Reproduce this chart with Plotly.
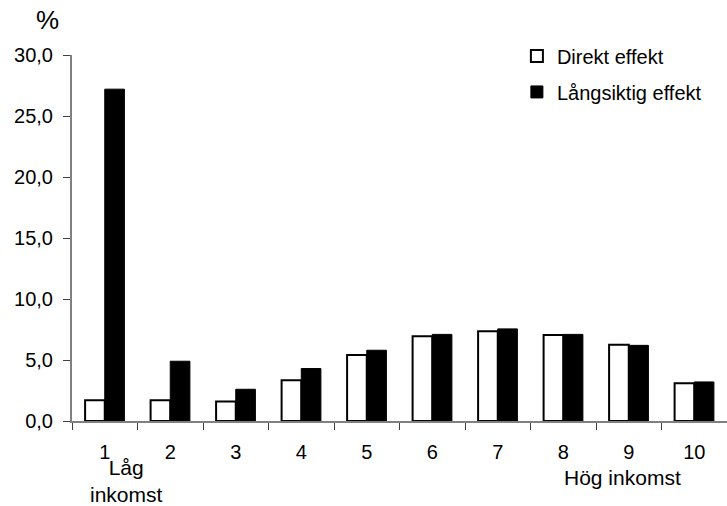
import plotly.graph_objects as go

# Income deciles and effect sizes (%)
deciles = ["1", "2", "3", "4", "5", "6", "7", "8", "9", "10"]
direkt = [1.7, 1.7, 1.6, 3.35, 5.4, 6.95, 7.35, 7.05, 6.25, 3.1]
langsiktig = [27.2, 4.9, 2.6, 4.3, 5.8, 7.1, 7.55, 7.1, 6.2, 3.2]
y_ticks = [0, 5, 10, 15, 20, 25, 30]

FONT = "Liberation Sans, Arial, sans-serif"

fig = go.Figure()
fig.add_trace(go.Bar(
    x=deciles, y=direkt, name="Direkt effekt", legendgroup="a",
    marker=dict(color="white", line=dict(color="black", width=2)),
))
fig.add_trace(go.Bar(
    x=deciles, y=langsiktig, name="Långsiktig effekt", legendgroup="b",
    marker=dict(color="black", line=dict(color="black", width=1)),
))

fig.update_layout(
    width=727, height=506,
    margin=dict(l=72, r=0, t=55, b=85, autoexpand=False),
    paper_bgcolor="white", plot_bgcolor="white",
    barmode="group", bargap=0.4, bargroupgap=0,
    separators=", ",
    font=dict(family=FONT, size=20, color="black"),
    showlegend=True,
    legend=dict(
        xref="container", yref="container",
        x=0.711, y=0.928, xanchor="left", yanchor="top",
        font=dict(size=20), bgcolor="rgba(0,0,0,0)",
        itemwidth=30, tracegroupgap=7, traceorder="grouped",
    ),
    xaxis=dict(
        type="category", tickson="boundaries", range=[-0.5, 9.5],
        ticks="outside", ticklen=7, tickcolor="#404040",
        showline=True, linecolor="#808080", linewidth=2,
        showgrid=False, tickfont=dict(size=20), ticklabelstandoff=12,
    ),
    yaxis=dict(
        range=[0, 30], tickvals=y_ticks, tickformat=".1f",
        ticks="outside", ticklen=7, tickcolor="#404040",
        showline=True, linecolor="#808080", linewidth=2,
        showgrid=False, zeroline=False, tickfont=dict(size=20),
        ticklabelstandoff=6,
    ),
    annotations=[
        dict(text="%", xref="paper", yref="paper", x=-0.037, y=1.0,
             xanchor="center", yanchor="middle", yshift=35,
             showarrow=False, font=dict(size=26)),
        dict(text="Låg<br>inkomst", xref="x", yref="paper", x=0, xshift=22,
             y=0, yshift=-33, xanchor="center", yanchor="top",
             showarrow=False, font=dict(size=21)),
        dict(text="Hög inkomst", xref="x", yref="paper", x=7.9,
             y=0, yshift=-43, xanchor="center", yanchor="top",
             showarrow=False, font=dict(size=21)),
    ],
)

fig.write_html("out.html")
